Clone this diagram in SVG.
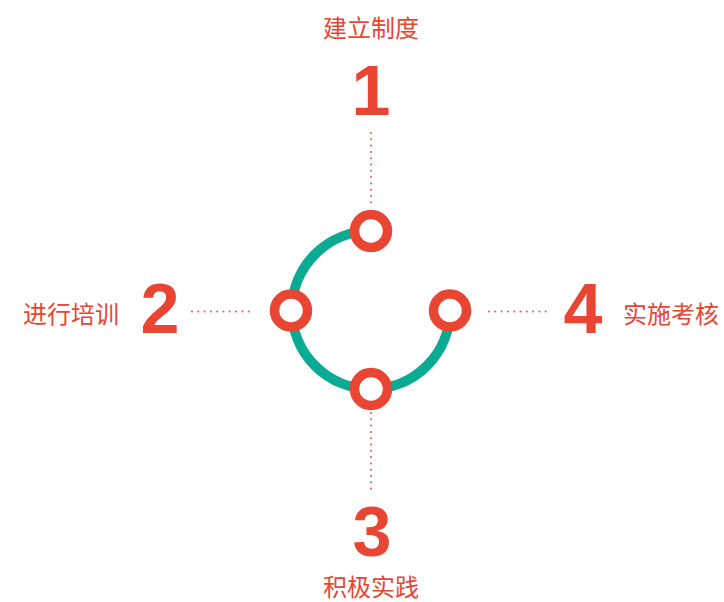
<svg xmlns="http://www.w3.org/2000/svg" width="724" height="602" viewBox="0 0 724 602">
<style>
.num{font-family:"Liberation Sans",Arial,sans-serif;font-weight:bold;font-size:70px;fill:#E84532;text-anchor:middle}
.lbl{font-family:"Noto Sans CJK SC","Noto Sans",sans-serif;font-size:24px;fill:#E84532;text-anchor:middle}
.dot{stroke:#E8574A;stroke-width:2;stroke-linecap:round;stroke-dasharray:0 6.3;fill:none}
.ring{fill:#fff;stroke:#E84532;stroke-width:9.5}
</style>
<rect width="724" height="602" fill="#fff"/>
<g id="connectors">
<line class="dot" x1="371" y1="133" x2="371" y2="207"/>
<line class="dot" x1="371" y1="413" x2="371" y2="491"/>
<line class="dot" x1="192" y1="311.5" x2="250" y2="311.5"/>
<line class="dot" x1="489" y1="311.5" x2="549" y2="311.5"/>
<path d="M 371 231 A 79 79 0 1 0 450 310" fill="none" stroke="#0BAA93" stroke-width="10"/>
</g>
<g id="node1">
<circle class="ring" cx="371" cy="231" r="16.5"/>
<text class="num" x="371" y="115">1</text>
<text class="lbl" x="371" y="37">建立制度</text>
</g>
<g id="node2">
<circle class="ring" cx="291" cy="310.5" r="16.5"/>
<text class="num" x="160" y="333">2</text>
<text class="lbl" x="71" y="322.5">进行培训</text>
</g>
<g id="node3">
<circle class="ring" cx="371" cy="389" r="16.5"/>
<text class="num" x="372" y="556">3</text>
<text class="lbl" x="371" y="596">积极实践</text>
</g>
<g id="node4">
<circle class="ring" cx="450" cy="310.5" r="16.5"/>
<text class="num" x="583" y="333">4</text>
<text class="lbl" x="671" y="322.5">实施考核</text>
</g>
</svg>
